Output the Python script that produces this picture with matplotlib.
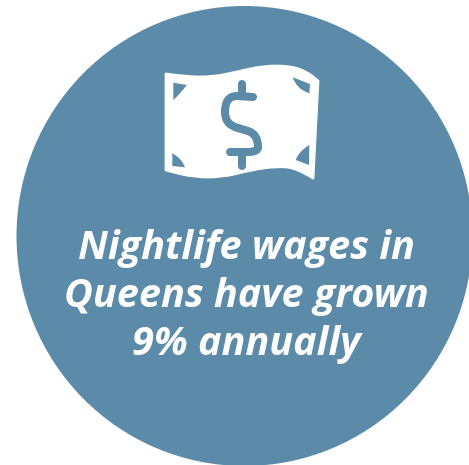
import matplotlib
matplotlib.use('Agg')
import matplotlib.pyplot as plt
from matplotlib.patches import Ellipse, PathPatch
from matplotlib.path import Path

W, H = 469, 465
BLUE = '#5b8ba8'

lines = ['Nightlife wages in', 'Queens have grown', '9% annually']
line_y = [259, 307, 355]

# bill outline, traced in pixels of the picture
bill_top = [(166, 74), (187, 77), (213, 77), (237, 72), (263, 66), (290, 66), (307, 72), (318, 81)]
bill_bottom = [(313, 178), (297, 168), (277, 166), (250, 170), (223, 177), (193, 177), (166, 170)]
# corner, first end, curve control, second end
corners = [
    [(173.3, 82.7), (186.7, 85), (180.7, 93.3), (173.3, 100)],
    [(310, 84), (292.7, 77.3), (296.7, 89.3), (309.3, 93.3)],
    [(172.3, 166), (172.3, 153.3), (181.7, 158.3), (185, 167.3)],
    [(309, 165), (309.3, 145), (298.3, 151.7), (295.7, 160)],
]


def smooth(points):
    verts = [points[0]]
    codes = [Path.MOVETO]
    for i in range(1, len(points) - 1):
        mid = ((points[i][0] + points[i + 1][0]) / 2, (points[i][1] + points[i + 1][1]) / 2)
        verts += [points[i], mid]
        codes += [Path.CURVE3, Path.CURVE3]
    verts.append(points[-1])
    codes.append(Path.LINETO)
    return verts, codes


fig = plt.figure(figsize=(W / 100, H / 100), dpi=100)
ax = fig.add_axes([0, 0, 1, 1])
ax.set_xlim(0, W)
ax.set_ylim(H, 0)
ax.axis('off')

ax.add_patch(Ellipse((244.5, 236), 456, 460, fc=BLUE, ec='none'))

# bill
v1, c1 = smooth(bill_top)
v2, c2 = smooth(bill_bottom)
c2[0] = Path.LINETO
ax.add_patch(PathPatch(Path(v1 + v2 + [v1[0]], c1 + c2 + [Path.CLOSEPOLY]),
                       fc='white', ec='white', lw=2, joinstyle='round'))

# corner cutouts
for corner, p1, ctrl, p2 in corners:
    ax.add_patch(PathPatch(Path([corner, p1, ctrl, p2, corner],
                                [Path.MOVETO, Path.LINETO, Path.CURVE3, Path.CURVE3, Path.CLOSEPOLY]),
                           fc=BLUE, ec='none'))

# dollar sign
s_verts = [(253, 97), (237, 96), (225, 96), (225, 112), (225, 125), (238, 128),
           (248, 131), (258, 134), (258, 147), (258, 152), (248, 152), (230, 152)]
s_codes = [Path.MOVETO, Path.LINETO, Path.CURVE3, Path.CURVE3, Path.CURVE3, Path.CURVE3,
           Path.LINETO, Path.CURVE3, Path.CURVE3, Path.CURVE3, Path.CURVE3, Path.LINETO]
ax.add_patch(PathPatch(Path(s_verts, s_codes), fc='none', ec=BLUE, lw=5.8, capstyle='round'))
ax.plot([241.5, 241.5], [84, 94], color=BLUE, lw=5.8, solid_capstyle='round')
ax.plot([241.5, 241.5], [155, 166], color=BLUE, lw=5.8, solid_capstyle='round')

for txt, y in zip(lines, line_y):
    ax.text(246, y, txt, color='white', ha='center', va='baseline', family='Open Sans',
            weight='bold', style='italic', fontsize=28.5)

fig.savefig('out.png', dpi=100, facecolor='white')
